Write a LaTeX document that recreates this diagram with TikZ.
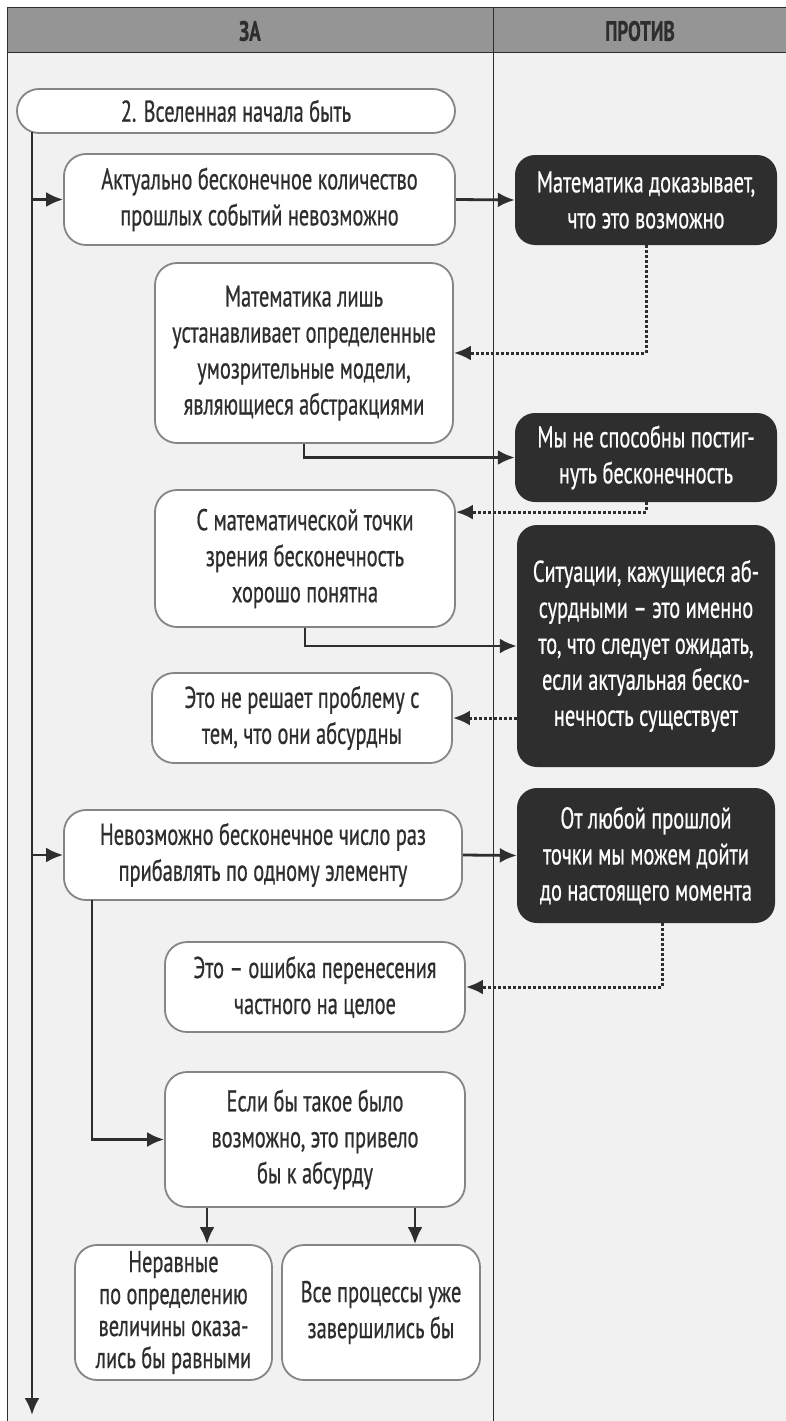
\documentclass[tikz,border=0pt]{standalone}
\usepackage{fontspec}
\setmainfont{PT Sans}[FakeStretch=0.68, FakeBold=0.6]
\usetikzlibrary{arrows.meta}
\definecolor{inkgray}{HTML}{2E2E2E}
\definecolor{boxgray}{HTML}{858585}
\definecolor{headgray}{HTML}{959595}
\definecolor{sheetgray}{HTML}{F1F1F1}

\begin{document}
\begin{tikzpicture}[x=1pt, y=-1pt,
    zabox/.style={draw=boxgray, line width=1.8pt, fill=white, rounded corners=22pt,
      align=center, text=inkgray, inner sep=0pt, font=\fontsize{30}{36}\selectfont},
    protivbox/.style={fill=inkgray, rounded corners=20pt, align=center, text=white,
      inner sep=0pt, font=\fontsize{30}{36}\selectfont},
    link/.style={draw=inkgray, line width=2.8pt, -{Latex[length=17pt,width=15pt]}},
    dotlink/.style={draw=inkgray, line width=3pt, dash pattern=on 2.5pt off 2.5pt,
      -{Latex[length=17pt,width=15pt]}},
    headtext/.style={text=inkgray, font=\bfseries\fontsize{28}{30}\selectfont}]
  \useasboundingbox (0,0) rectangle (786,1421);
  % table
  \fill[sheetgray] (7,53) rectangle (786,1421);
  \fill[headgray] (7,8) rectangle (786,53);
  \draw[inkgray, line width=1pt] (786,8) -- (7,8) -- (7,1421);
  \draw[inkgray, line width=1pt] (7,53) -- (786,53);
  \draw[inkgray, line width=1pt] (493,8) -- (493,1421);
  \node[headtext] (za) at (250,31) {ЗА};
  \node[headtext] (protiv) at (640,31) {ПРОТИВ};

  % left column
  \node[zabox, minimum width=438pt, minimum height=44pt] (start) at (236,111) {2. Вселенная начала быть};
  \node[zabox, minimum width=391pt, minimum height=91pt] (past) at (259.5,199.5) {Актуально бесконечное количество\\прошлых событий невозможно};
  \node[zabox, minimum width=298pt, minimum height=180pt] (models) at (304,353) {Математика лишь\\устанавливает определенные\\умозрительные модели,\\являющиеся абстракциями};
  \node[zabox, minimum width=300pt, minimum height=137pt] (understood) at (305,558.5) {С математической точки\\зрения бесконечность\\хорошо понятна};
  \node[zabox, minimum width=300pt, minimum height=90pt] (absurd) at (302,718) {Это не решает проблему с\\тем, что они абсурдны};
  \node[zabox, minimum width=398pt, minimum height=90pt] (adding) at (263,855) {Невозможно бесконечное число раз\\прибавлять по одному элементу};
  \node[zabox, minimum width=300pt, minimum height=90pt] (fallacy) at (315,987) {Это – ошибка перенесения\\частного на целое};
  \node[zabox, minimum width=300pt, minimum height=135pt] (ifso) at (315,1139.5) {Если бы такое было\\возможно, это привело\\бы к абсурду};
  \node[zabox, minimum width=197pt, minimum height=135pt, font=\fontsize{30}{32}\selectfont] (unequal) at (173.5,1312.5) {Неравные\\по определению\\величины оказа-\\лись бы равными};
  \node[zabox, minimum width=198pt, minimum height=135pt] (finished) at (381,1312.5) {Все процессы уже\\завершились бы};

  % right column
  \node[protivbox, minimum width=262pt, minimum height=90pt] (proves) at (646,200) {Математика доказывает,\\что это возможно};
  \node[protivbox, minimum width=262pt, minimum height=89pt] (grasp) at (646,457.5) {Мы не способны постиг-\\нуть бесконечность};
  \node[protivbox, minimum width=258pt, minimum height=242pt] (expected) at (646,646) {Ситуации, кажущиеся аб-\\сурдными – это именно\\то, что следует ожидать,\\если актуальная беско-\\нечность существует};
  \node[protivbox, minimum width=258pt, minimum height=135pt] (reach) at (646,855.5) {От любой прошлой\\точки мы можем дойти\\до настоящего момента};

  % connectors
  \coordinate (trunk) at (32,132);
  \coordinate (trunkend) at (32,1415);
  \coordinate (branch) at (92,900);
  \draw[link] (trunk) -- (trunkend);
  \draw[link] (trunk |- past.west) -- (past.west);
  \draw[link] (trunk |- adding.west) -- (adding.west);
  \draw[link] (past.east) -- (proves.west);
  \draw[dotlink] (proves.south) |- (models.east);
  \draw[link] (models.south) |- (grasp.west);
  \draw[dotlink] (grasp.south) |- ([yshift=-23pt]understood.north east);
  \draw[link] (understood.south) |- (expected.west);
  \draw[dotlink] (expected.west |- absurd.east) -- (absurd.east);
  \draw[link] (adding.east) -- (reach.west);
  \draw[dotlink] ([xshift=16pt]reach.south) |- (fallacy.east);
  \draw[link] (branch) |- (ifso.west);
  \draw[link] ([xshift=-108pt]ifso.south) -- ([xshift=-108pt]ifso.south |- unequal.north);
  \draw[link] ([xshift=100pt]ifso.south) -- ([xshift=100pt]ifso.south |- finished.north);
\end{tikzpicture}
\end{document}
